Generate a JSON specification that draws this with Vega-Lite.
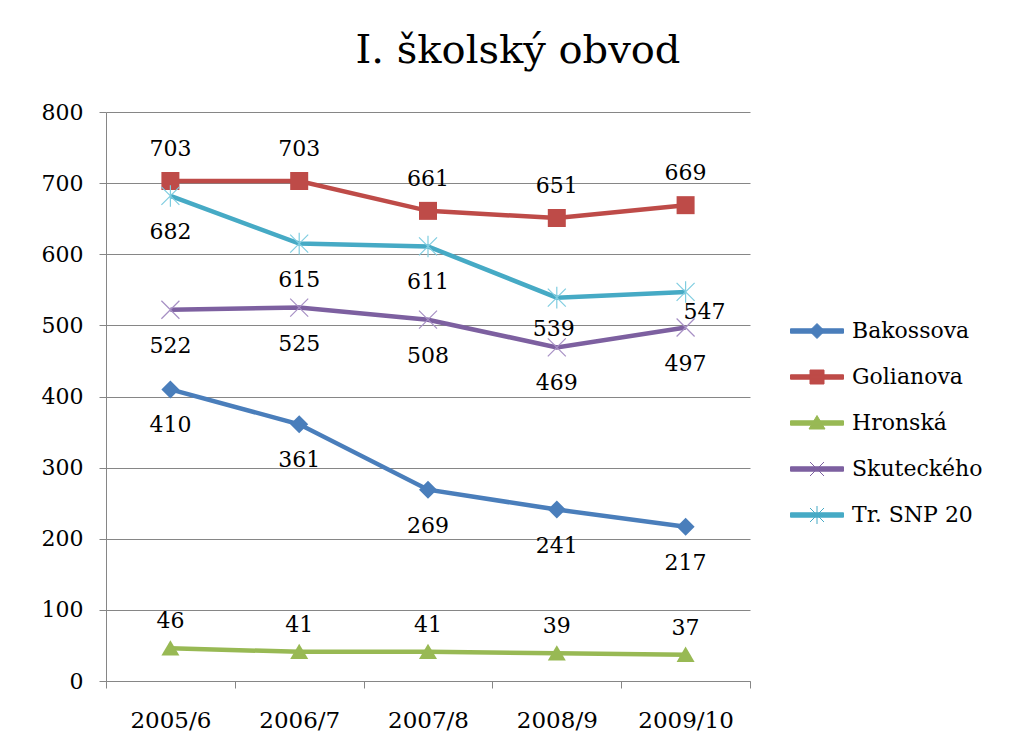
{
  "$schema": "https://vega.github.io/schema/vega-lite/v6.json",
  "autosize": {"type": "none"},
  "width": 644,
  "height": 569,
  "padding": {"left": 106, "top": 112, "right": 267, "bottom": 73},
  "background": "white",
  "title": {
    "text": "I. školský obvod",
    "font": "DejaVu Serif",
    "fontSize": 40,
    "fontWeight": "normal",
    "color": "black",
    "anchor": "middle",
    "frame": "group",
    "dx": 90,
    "offset": -2,
    "baseline": "alphabetic"
  },
  "config": {
    "view": {"stroke": null},
    "font": "DejaVu Serif"
  },
  "data": {
    "values": [
      {"year": "2005/6", "school": "Bakossova", "value": 410},
      {"year": "2006/7", "school": "Bakossova", "value": 361},
      {"year": "2007/8", "school": "Bakossova", "value": 269},
      {"year": "2008/9", "school": "Bakossova", "value": 241},
      {"year": "2009/10", "school": "Bakossova", "value": 217},
      {"year": "2005/6", "school": "Golianova", "value": 703},
      {"year": "2006/7", "school": "Golianova", "value": 703},
      {"year": "2007/8", "school": "Golianova", "value": 661},
      {"year": "2008/9", "school": "Golianova", "value": 651},
      {"year": "2009/10", "school": "Golianova", "value": 669},
      {"year": "2005/6", "school": "Hronská", "value": 46},
      {"year": "2006/7", "school": "Hronská", "value": 41},
      {"year": "2007/8", "school": "Hronská", "value": 41},
      {"year": "2008/9", "school": "Hronská", "value": 39},
      {"year": "2009/10", "school": "Hronská", "value": 37},
      {"year": "2005/6", "school": "Skuteckého", "value": 522},
      {"year": "2006/7", "school": "Skuteckého", "value": 525},
      {"year": "2007/8", "school": "Skuteckého", "value": 508},
      {"year": "2008/9", "school": "Skuteckého", "value": 469},
      {"year": "2009/10", "school": "Skuteckého", "value": 497},
      {"year": "2005/6", "school": "Tr. SNP 20", "value": 682},
      {"year": "2006/7", "school": "Tr. SNP 20", "value": 615},
      {"year": "2007/8", "school": "Tr. SNP 20", "value": 611},
      {"year": "2008/9", "school": "Tr. SNP 20", "value": 539},
      {"year": "2009/10", "school": "Tr. SNP 20", "value": 547}
    ]
  },
  "encoding": {
    "x": {
      "field": "year",
      "type": "nominal",
      "sort": null,
      "scale": {"paddingInner": 0, "paddingOuter": 0},
      "axis": {
        "title": null,
        "labelAngle": 0,
        "labelFont": "DejaVu Serif",
        "labelFontSize": 23,
        "labelColor": "black",
        "labelPadding": 21,
        "domainColor": "#868686",
        "tickColor": "#868686",
        "tickSize": 7,
        "tickBand": "extent",
        "grid": false
      }
    },
    "y": {
      "field": "value",
      "type": "quantitative",
      "scale": {"domain": [0, 800], "nice": false},
      "axis": {
        "title": null,
        "values": [0, 100, 200, 300, 400, 500, 600, 700, 800],
        "labelFont": "DejaVu Serif",
        "labelFontSize": 22,
        "labelColor": "black",
        "labelPadding": 16,
        "domainColor": "#868686",
        "tickColor": "#868686",
        "tickSize": 7,
        "gridColor": "#868686",
        "gridWidth": 1
      }
    },
    "color": {
      "field": "school",
      "type": "nominal",
      "scale": {
        "domain": ["Bakossova", "Golianova", "Hronská", "Skuteckého", "Tr. SNP 20"],
        "range": ["#4A7EBB", "#BE4B48", "#98B954", "#7D60A0", "#46AAC5"]
      },
      "legend": {
        "title": null,
        "orient": "none",
        "legendX": 700,
        "legendY": 208,
        "padding": 0,
        "symbolSize": 400,
        "labelOffset": 24,
        "rowPadding": 24,
        "labelFont": "DejaVu Serif",
        "labelFontSize": 22,
        "labelColor": "black",
        "labelLimit": 300,
        "encode": {
          "symbols": {
            "update": {
              "shape": {"signal": "datum.value === 'Bakossova' ? 'M-2.65,-0.22L2.65,-0.22L2.65,0.22L-2.65,0.22ZM0,-0.75L0.75,0L0,0.75L-0.75,0Z' : datum.value === 'Golianova' ? 'M-2.65,-0.22L2.65,-0.22L2.65,0.22L-2.65,0.22ZM-0.7,-0.7L0.7,-0.7L0.7,0.7L-0.7,0.7Z' : datum.value === 'Hronská' ? 'M-2.65,-0.22L2.65,-0.22L2.65,0.22L-2.65,0.22ZM0,-0.75L0.8,0.6L-0.8,0.6Z' : datum.value === 'Skuteckého' ? 'M-2.65,-0.22L2.65,-0.22L2.65,0.22L-2.65,0.22ZM-0.7,-0.7L0.7,0.7M-0.7,0.7L0.7,-0.7' : 'M-2.65,-0.22L2.65,-0.22L2.65,0.22L-2.65,0.22ZM-0.7,-0.7L0.7,0.7M-0.7,0.7L0.7,-0.7M0,-0.9L0,0.9'"},
              "fill": {"scale": "color", "field": "value"},
              "stroke": {"scale": "color", "field": "value"},
              "strokeWidth": {"value": 1},
              "opacity": {"value": 1},
              "fillOpacity": {"value": 1},
              "strokeOpacity": {"value": 1}
            }
          }
        }
      }
    }
  },
  "layer": [
    {
      "mark": {"type": "line", "strokeWidth": 4.5}
    },
    {
      "transform": [{"filter": "datum.school === 'Bakossova'"}],
      "mark": {"type": "point", "filled": true, "size": 324, "opacity": 1, "shape": "M0,-1L1,0L0,1L-1,0Z"}
    },
    {
      "transform": [{"filter": "datum.school === 'Golianova'"}],
      "mark": {"type": "point", "filled": true, "size": 324, "opacity": 1, "shape": "M-1,-1L1,-1L1,1L-1,1Z"}
    },
    {
      "transform": [{"filter": "datum.school === 'Hronská'"}],
      "mark": {"type": "point", "filled": true, "size": 324, "opacity": 1, "shape": "M0,-0.9L1,0.8L-1,0.8Z"}
    },
    {
      "transform": [{"filter": "datum.school === 'Skuteckého'"}],
      "mark": {"type": "point", "filled": false, "size": 324, "opacity": 1, "strokeWidth": 1.2, "shape": "M-1,-1L1,1M-1,1L1,-1"},
      "encoding": {"color": {"value": "#A68FC4"}}
    },
    {
      "transform": [{"filter": "datum.school === 'Tr. SNP 20'"}],
      "mark": {"type": "point", "filled": false, "size": 324, "opacity": 1, "strokeWidth": 1.2, "shape": "M-1,-1L1,1M-1,1L1,-1M0,-1.2L0,1.2"},
      "encoding": {"color": {"value": "#7FCDE0"}}
    },
    {
      "transform": [{"filter": "datum.school === 'Golianova'"}],
      "mark": {"type": "text", "dy": -32, "fontSize": 22, "font": "DejaVu Serif"},
      "encoding": {"text": {"field": "value", "type": "quantitative"}, "color": {"value": "black"}}
    },
    {
      "transform": [{"filter": "datum.school === 'Hronská'"}],
      "mark": {"type": "text", "dy": -27, "fontSize": 22, "font": "DejaVu Serif"},
      "encoding": {"text": {"field": "value", "type": "quantitative"}, "color": {"value": "black"}}
    },
    {
      "transform": [{"filter": "datum.school === 'Bakossova' || datum.school === 'Skuteckého' || (datum.school === 'Tr. SNP 20' && datum.year !== '2008/9' && datum.year !== '2009/10')"}],
      "mark": {"type": "text", "dy": 36, "fontSize": 22, "font": "DejaVu Serif"},
      "encoding": {"text": {"field": "value", "type": "quantitative"}, "color": {"value": "black"}}
    },
    {
      "transform": [{"filter": "datum.school === 'Tr. SNP 20' && datum.year === '2008/9'"}],
      "mark": {"type": "text", "dy": 31, "dx": -3, "fontSize": 22, "font": "DejaVu Serif"},
      "encoding": {"text": {"field": "value", "type": "quantitative"}, "color": {"value": "black"}}
    },
    {
      "transform": [{"filter": "datum.school === 'Tr. SNP 20' && datum.year === '2009/10'"}],
      "mark": {"type": "text", "dy": 20, "dx": 19, "fontSize": 22, "font": "DejaVu Serif"},
      "encoding": {"text": {"field": "value", "type": "quantitative"}, "color": {"value": "black"}}
    }
  ]
}
